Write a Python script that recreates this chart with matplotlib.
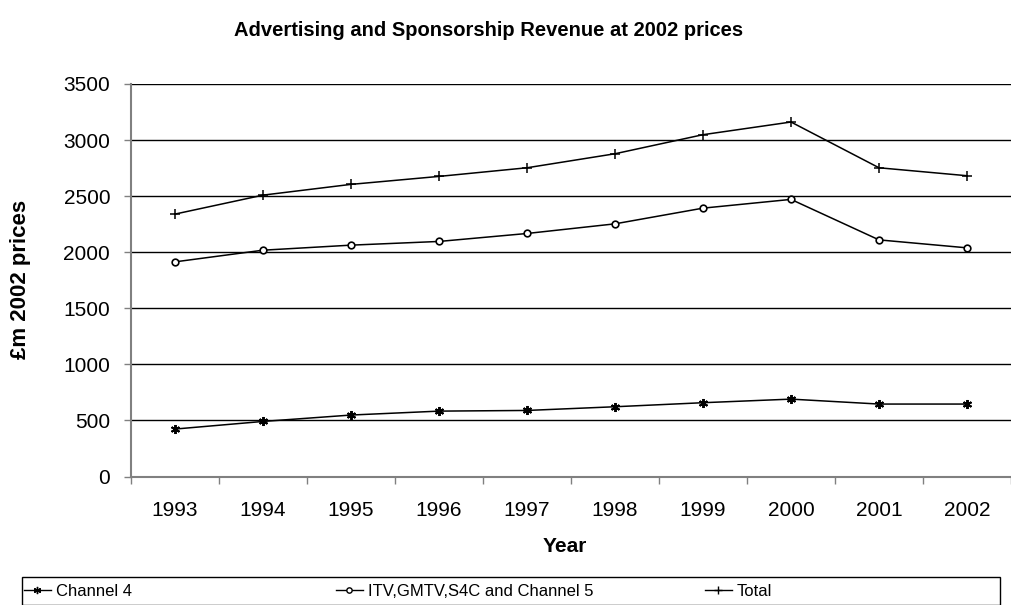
import matplotlib
matplotlib.use("Agg")
import matplotlib.pyplot as plt
from matplotlib.lines import Line2D
from matplotlib.patches import Rectangle
import numpy as np

years = ["1993", "1994", "1995", "1996", "1997", "1998", "1999", "2000", "2001", "2002"]
channel4 = [423, 491, 548, 583, 589, 622, 658, 690, 646, 646]
itv = [1914, 2018, 2063, 2096, 2167, 2253, 2393, 2471, 2110, 2039]
total = [2340, 2509, 2605, 2676, 2753, 2878, 3048, 3161, 2753, 2682]
yticks = [0, 500, 1000, 1500, 2000, 2500, 3000, 3500]

plt.rcParams['font.family'] = ['Liberation Sans', 'DejaVu Sans']

W, H = 1011, 605
fig = plt.figure(figsize=(W / 100, H / 100), dpi=100)
left, right, bottom, top = 131, 1011, 476.5, 84
ax = fig.add_axes([left / W, 1 - bottom / H, (right - left) / W, (bottom - top) / H])

x = np.arange(len(years))
star = (6, 2, 0)
ax.plot(x, channel4, color='black', lw=1.1, marker=star, ms=6.5, mew=1.4, label='Channel 4', zorder=3)
ax.plot(x, itv, color='black', lw=1.1, marker='o', ms=4.8, mfc='white', mew=1.2,
        label='ITV,GMTV,S4C and Channel 5', zorder=3)
ax.plot(x, total, color='black', lw=1.1, marker='+', ms=7, mew=1.1, label='Total', zorder=3)

ax.set_xlim(-0.5, (right - 175.3) / 89.0)
ax.set_ylim(0, 3500)
ax.set_yticks(yticks)
ax.set_yticklabels([str(v) for v in yticks], fontsize=15)
ax.yaxis.grid(True, color='black', lw=1.0)
ax.set_axisbelow(True)

ax.set_xticks(np.arange(-0.5, len(years) - 0.4, 1.0))
ax.set_xticklabels([])
ax.set_xticks(x, minor=True)
ax.set_xticklabels(years, minor=True, fontsize=15)
ax.tick_params(axis='x', which='major', direction='out', length=5, width=1, color='#808080')
ax.tick_params(axis='x', which='minor', length=0, pad=18)
ax.tick_params(axis='y', direction='out', length=5, width=1, color='#808080', pad=10)

for s in ['top', 'right']:
    ax.spines[s].set_visible(False)
for s in ['left', 'bottom']:
    ax.spines[s].set_color('#808080')
    ax.spines[s].set_linewidth(1.5)

fig.text(489 / W, 1 - 31 / H, 'Advertising and Sponsorship Revenue at 2002 prices',
         ha='center', va='center', fontsize=14.5, fontweight='bold')
fig.text(565 / W, 1 - 537 / H, 'Year', ha='center', va='top', fontsize=15, fontweight='bold')
fig.text(26 / W, 1 - 279 / H, '£m 2002 prices', ha='center', va='baseline', rotation=90,
         rotation_mode='anchor', fontsize=16, fontweight='bold')

# legend frame
fig.patches.append(Rectangle((22 / W, 0), (1000 - 22) / W, (H - 577) / H, transform=fig.transFigure,
                             fill=False, edgecolor='black', lw=1.0))
handles, labels = ax.get_legend_handles_labels()
xs = [24, 336, 705]
for h, l, xp in zip(handles, labels, xs):
    hh = Line2D([], [], color='black', lw=1.0, marker=h.get_marker(), ms=h.get_markersize() * 0.8,
                mfc=h.get_markerfacecolor(), mew=1.0)
    fig.legend([hh], [l], loc='center left', bbox_to_anchor=(xp / W, 1 - 591 / H),
               frameon=False, fontsize=12, handlelength=1.6, handletextpad=0.3,
               borderpad=0, borderaxespad=0)

fig.savefig('out.png', dpi=100)
